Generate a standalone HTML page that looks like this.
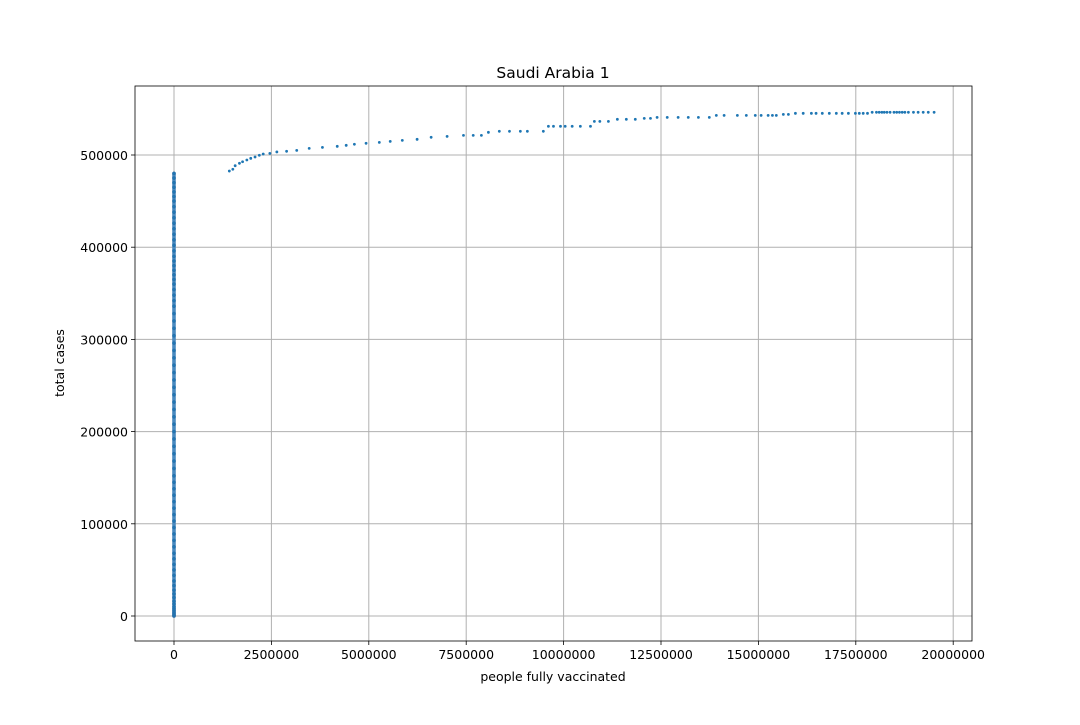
<!DOCTYPE html>
<html><head><meta charset="utf-8"><style>
body{margin:0;background:#fff}
svg text{font-family:"DejaVu Sans","Liberation Sans",sans-serif;fill:#000}
</style></head><body>
<svg id="chart" width="1080" height="720" xmlns="http://www.w3.org/2000/svg">
<rect width="1080" height="720" fill="#fff"/>
<g id="grid"></g><g id="marks"></g><g id="axes"></g>
</svg>
<script>
const xTicks=[0,2500000,5000000,7500000,10000000,12500000,15000000,17500000,20000000];
const yTicks=[0,100000,200000,300000,400000,500000];
const colY=[0,1000,2500,4000,6000,8000,10000,13000,16000,20000,24000,28000,33000,38000,44000,50000,56000,62000,68000,75000,82000,89000,96000,103000,110000,117000,124000,131000,138000,145000,152000,160000,168000,176000,184000,192000,200000,208000,216000,224000,232000,240000,248000,256000,264000,272000,280000,288000,296000,304000,312000,320000,328000,336000,342000,348000,354000,360000,365000,370000,375000,380000,385000,390000,396000,402000,408000,414000,420000,426000,432000,438000,444000,450000,455000,460000,465000,470000,475000,480000];
const vacX=[1420000,1510000,1570000,1680000,1760000,1870000,1970000,2080000,2190000,2290000,2460000,2640000,2890000,3150000,3470000,3810000,4190000,4420000,4630000,4930000,5270000,5550000,5860000,6240000,6600000,7010000,7430000,7680000,7890000,8070000,8350000,8610000,8890000,9070000,9480000,9610000,9740000,9920000,10040000,10220000,10430000,10690000,10790000,10930000,11150000,11380000,11610000,11840000,12070000,12230000,12400000,12660000,12940000,13200000,13460000,13740000,13920000,14120000,14460000,14690000,14920000,15070000,15250000,15360000,15460000,15640000,15770000,15950000,16150000,16360000,16480000,16640000,16820000,17000000,17150000,17310000,17490000,17590000,17690000,17800000,17920000,18030000,18100000,18170000,18230000,18300000,18380000,18480000,18550000,18620000,18690000,18760000,18850000,18980000,19100000,19230000,19360000,19510000];
const vacY=[482600,484500,488400,491000,492700,494600,496400,497800,499700,501100,501800,503300,504000,505000,507200,508300,509400,510500,511600,512700,513700,514800,515900,517000,519200,520200,521300,521300,521300,524600,525700,525700,525700,525700,525700,531100,531100,531100,531100,531100,531100,531100,536500,536500,536500,538700,538700,538700,539700,539700,540800,540800,540800,540800,540800,540800,543000,543000,543000,543000,543000,543000,543000,543000,543000,544100,544100,545200,545200,545200,545200,545200,545200,545200,545200,545200,545200,545200,545200,545200,546300,546300,546300,546300,546300,546300,546300,546300,546300,546300,546300,546300,546300,546300,546300,546300,546300,546300];
const L=135,R=972,T=86,B=641;
const xs=v=>174+v/2500000*97.4;
const ys=v=>616-v/100000*92.2;
const NS="http://www.w3.org/2000/svg";
function mk(tag,attrs,parent){const e=document.createElementNS(NS,tag);for(const k in attrs)e.setAttribute(k,attrs[k]);parent.appendChild(e);return e;}
const grid=document.getElementById('grid'),marks=document.getElementById('marks'),axes=document.getElementById('axes');
xTicks.forEach(t=>{const x=xs(t);
 const g=mk('line',{x1:x,x2:x,y1:T,y2:B,stroke:'#b0b0b0','stroke-width':1},grid);
 
 
 mk('line',{x1:x,x2:x,y1:B,y2:B+4,stroke:'#000','stroke-width':0.8},axes);
 const tx=mk('text',{x:x,y:B+18,'font-size':12.5,'text-anchor':'middle'},axes);tx.textContent=t;
 
 
});
yTicks.forEach(t=>{const y=ys(t);
 const g=mk('line',{x1:L,x2:R,y1:y,y2:y,stroke:'#b0b0b0','stroke-width':1},grid);
 
 
 mk('line',{x1:L-4,x2:L,y1:y,y2:y,stroke:'#000','stroke-width':0.8},axes);
 const tx=mk('text',{x:L-7,y:y+5,'font-size':12.5,'text-anchor':'end'},axes);tx.textContent=t;
 
 
});
const colPath=mk('path',{d:colY.map((v,i)=>(i?'L':'M')+xs(0)+','+ys(v)).join(''),stroke:'#4a8ac0','stroke-width':3.6,fill:'none','stroke-linecap':'round'},marks);


colY.forEach(v=>{const c=mk('circle',{cx:xs(0),cy:ys(v),r:1.5,fill:'#1f77b4',stroke:'#2a6fa8','stroke-width':0.6},marks);
 
 });
vacX.forEach((v,i)=>{const c=mk('circle',{cx:xs(v),cy:ys(vacY[i]),r:1.4,fill:'#1f77b4'},marks);
 
 });
const fr=mk('rect',{x:L,y:T,width:R-L,height:B-T,fill:'none',stroke:'#000','stroke-width':0.8},axes);


const ti=mk('text',{x:553,y:78,'font-size':15.5,'text-anchor':'middle'},axes);ti.textContent='Saudi Arabia 1';


const xl=mk('text',{x:553,y:681,'font-size':12.5,'text-anchor':'middle'},axes);xl.textContent='people fully vaccinated';


const yl=mk('text',{x:0,y:0,'font-size':12.5,'text-anchor':'middle',transform:'translate(64,363) rotate(-90)'},axes);yl.textContent='total cases';


</script>
</body></html>
